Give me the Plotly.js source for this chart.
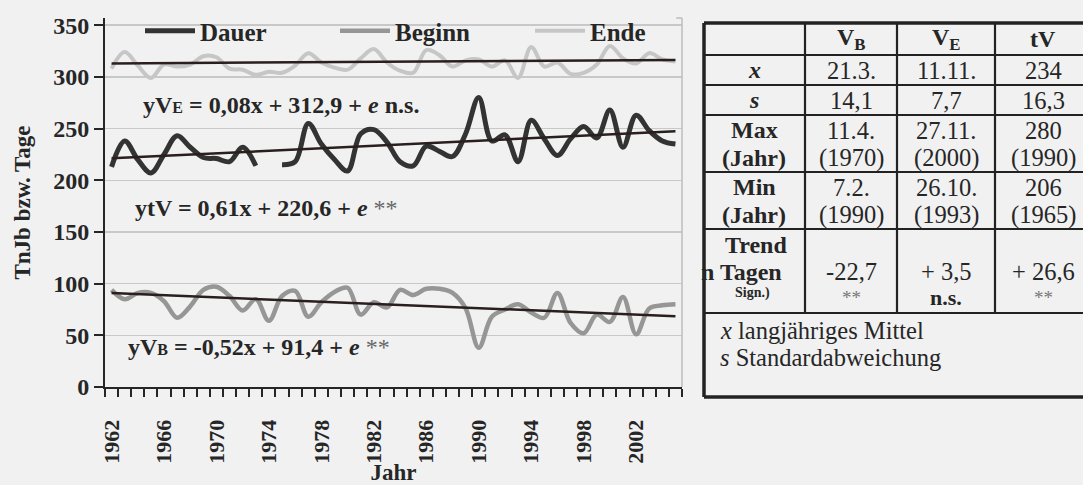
<!DOCTYPE html>
<html>
<head>
<meta charset="utf-8">
<script src="https://cdn.plot.ly/plotly-3.0.1.min.js"></script>
<style>html,body{margin:0;padding:0;background:#f1f1f1;}#chart{width:1083px;height:485px;}</style>
</head>
<body>
<div id="chart"></div>
<script>
// ---------- data ----------
const years = [1962,1963,1964,1965,1966,1967,1968,1969,1970,1971,1972,1973,1974,1975,1976,1977,1978,1979,1980,1981,1982,1983,1984,1985,1986,1987,1988,1989,1990,1991,1992,1993,1994,1995,1996,1997,1998,1999,2000,2001,2002,2003,2004,2005];
const dauer  = [213,238,220,207,225,243,232,222,221,218,232,214,null,215,218,255,235,220,209,245,249,237,218,214,233,228,223,245,280,238,244,218,258,240,224,240,252,241,268,232,263,248,238,235];
const beginn = [94,85,91,91,83,67,78,94,97,88,74,85,64,88,93,68,82,92,96,70,82,77,94,89,95,95,91,76,38,68,75,80,72,67,91,62,52,70,63,87,51,76,79,80];
const ende   = [308,324,311,299,312,310,312,320,319,308,307,302,305,304,311,323,314,309,307,318,327,314,306,304,326,321,310,316,317,310,316,299,329,310,314,303,304,312,330,318,313,323,317,315];
// trend lines: values at first and last year
const trendYears  = [1962, 2005];
const trendEnde   = [313.0, 316.4];
const trendDauer  = [221.2, 247.4];
const trendBeginn = [90.9, 68.5];
const seriesNames = ["Dauer","Beginn","Ende"];
const labelYears = [1962,1966,1970,1974,1978,1982,1986,1990,1994,1998,2002];
const yTicks = [0,50,100,150,200,250,300,350];
const equations = [
  "yV<span style='font-size:16px'>E</span> = 0,08x + 312,9 + <i>e</i> n.s.",
  "ytV = 0,61x + 220,6 + <i>e</i> <span style='font-weight:normal;color:#666'>**</span>",
  "yV<span style='font-size:16px'>B</span> = -0,52x + 91,4 + <i>e</i> <span style='font-weight:normal;color:#666'>**</span>"
];
// table content (one entry per text line)
const tableHeader = ["", "V<sub>B</sub>", "V<sub>E</sub>", "tV"];
const rowX    = ["<i>x</i>", "21.3.", "11.11.", "234"];
const rowS    = ["<i>s</i>", "14,1", "7,7", "16,3"];
const rowMax  = ["Max", "11.4.", "27.11.", "280"];
const rowMaxY = ["(Jahr)", "(1970)", "(2000)", "(1990)"];
const rowMin  = ["Min", "7.2.", "26.10.", "206"];
const rowMinY = ["(Jahr)", "(1990)", "(1993)", "(1965)"];
const trendVals = ["-22,7", "+ 3,5", "+ 26,6"];
const trendSig  = ["**", "n.s.", "**"];
const footer = ["<i>x</i> langjähriges Mittel", "<i>s</i> Standardabweichung"];

// ---------- layout helpers ----------
const W = 1083, H = 485;
const ML = 105, MR = 0, MT = 18, MB = 98;
const PW = W - ML - MR, PH = H - MT - MB;
const px = x => (x - ML) / PW;
const py = y => (H - MB - y) / PH;
const SERIF = "Liberation Serif, Times New Roman, serif";
const INK = "#262626";
const BG = "#f1f1f1";

const bounds = years.map(y => y - 0.5).concat([years[years.length - 1] + 0.5]);

const traces = [
  {x: years, y: dauer, name: seriesNames[0], mode: "lines", connectgaps: false,
   line: {color: "#333333", width: 5, shape: "spline", smoothing: 1}},
  {x: years, y: beginn, name: seriesNames[1], mode: "lines",
   line: {color: "#969696", width: 4.5, shape: "spline", smoothing: 1}},
  {x: years, y: ende, name: seriesNames[2], mode: "lines",
   line: {color: "#c6c6c6", width: 4, shape: "spline", smoothing: 1}},
  {x: trendYears, y: trendEnde, mode: "lines", showlegend: false, hoverinfo: "skip",
   line: {color: "#2a1e1e", width: 2.5}},
  {x: trendYears, y: trendDauer, mode: "lines", showlegend: false, hoverinfo: "skip",
   line: {color: "#2a1e1e", width: 2.5}},
  {x: trendYears, y: trendBeginn, mode: "lines", showlegend: false, hoverinfo: "skip",
   line: {color: "#2a1e1e", width: 2.5}}
];

const annotations = [];
function ann(text, x, y, opt) {
  opt = opt || {};
  annotations.push(Object.assign({
    xref: "paper", yref: "paper", x: px(x), y: py(y), text: text, showarrow: false,
    xanchor: "center", yanchor: "middle",
    font: {family: SERIF, size: 22, color: INK}
  }, opt));
}
// equations
const eqPos = [[141, 105], [133, 208], [126, 347]];
equations.forEach((t, i) => ann(t, eqPos[i][0], eqPos[i][1],
  {xanchor: "left", font: {family: SERIF, size: 24, color: INK, weight: "bold"}}));

// table
const colC = [754, 851, 946, 1043];
const bold = {family: SERIF, size: 24, color: INK, weight: "bold"};
const reg  = {family: SERIF, size: 24.5, color: INK};
tableHeader.forEach((t, i) => { if (t) ann(t, colC[i], 39, {font: bold}); });
[[rowX, 70], [rowS, 100], [rowMax, 130], [rowMaxY, 158], [rowMin, 187], [rowMinY, 215]].forEach(([row, yy]) => {
  row.forEach((t, i) => ann(t, colC[i], yy, {font: i === 0 ? bold : reg}));
});
ann("Trend", colC[0] + 2, 245, {font: bold});
ann("n Tagen", 784, 272, {xanchor: "right", font: bold});
ann("Sign.)", colC[0] - 2, 293, {font: {family: SERIF, size: 14, color: INK, weight: "bold"}});
trendVals.forEach((t, i) => ann(t, colC[i + 1], 271, {font: reg}));
trendSig.forEach((t, i) => ann(t, colC[i + 1], 297,
  {font: t === "n.s." ? {family: SERIF, size: 22, color: INK, weight: "bold"} : {family: SERIF, size: 19, color: "#777"}}));
footer.forEach((t, i) => ann(t, 718, 330 + i * 27, {xanchor: "left", font: reg}));

// shapes
const shapes = [];
// mask the top gridline strip (behind the legend area), drawn under the traces
shapes.push({type: "rect", xref: "x domain", yref: "y", x0: 0.003, x1: 0.997, y0: 343, y1: 357,
  layer: "below", line: {width: 0}, fillcolor: BG});
function line(x0, y0, x1, y1, w) {
  shapes.push({type: "line", xref: "paper", yref: "paper",
    x0: px(x0), y0: py(y0), x1: px(x1), y1: py(y1),
    line: {color: "#222", width: w}});
}
const TL = 704, TR = 1090, TT = 23, TB = 397;
line(TL, TT, TR, TT, 3.5);
line(TL, TB, TR, TB, 3.5);
line(TL, TT, TL, TB, 3.5);
[805, 897, 995].forEach(x => line(x, TT, x, 313, 2.2));
[55, 85, 115, 172, 229, 313].forEach(y => line(TL, y, TR, y, 2.2));
// plot area right border
shapes.push({type: "line", xref: "x domain", yref: "y domain", x0: 1, x1: 1, y0: 0, y1: 1,
  line: {color: "#bcbcbc", width: 1.5}});
shapes.push({type: "line", xref: "x domain", yref: "y domain", x0: 0.99, x1: 1, y0: 1, y1: 1,
  line: {color: "#bcbcbc", width: 1.5}});

const layout = {
  width: W, height: H,
  paper_bgcolor: BG, plot_bgcolor: BG,
  margin: {l: ML, r: MR, t: MT, b: MB, pad: 0},
  showlegend: true,
  legend: {orientation: "h", x: px(140), y: py(8), xanchor: "left", yanchor: "top",
    bgcolor: "rgba(0,0,0,0)", itemwidth: 50, entrywidth: 130, entrywidthmode: "pixels",
    font: {family: SERIF, size: 25, color: INK, weight: "bold"}},
  xaxis: {domain: [0, (682 - ML) / PW], range: [bounds[0], bounds[bounds.length - 1]],
    tickmode: "array", tickvals: labelYears, ticktext: labelYears.map(String),
    tickangle: -90, ticks: "", ticklabelstandoff: 22,
    showline: true, linecolor: INK, linewidth: 2, showgrid: false, zeroline: false,
    tickfont: {family: SERIF, size: 22, color: INK, weight: "bold"},
    minor: {ticks: "outside", tickmode: "array", tickvals: bounds, ticklen: 8,
      tickwidth: 2, tickcolor: INK, showgrid: false},
    title: {text: "Jahr", font: {family: SERIF, size: 23, color: INK, weight: "bold"}, standoff: 11}},
  yaxis: {range: [0, 357], tickmode: "array", tickvals: yTicks,
    ticks: "outside", ticklen: 9, tickwidth: 2, tickcolor: INK,
    showline: true, linecolor: INK, linewidth: 2,
    showgrid: true, gridcolor: "#c8c8c8", gridwidth: 1.5, zeroline: false,
    tickfont: {family: SERIF, size: 24, color: INK, weight: "bold"},
    title: {text: "TnJb bzw. Tage", font: {family: SERIF, size: 23, color: INK, weight: "bold"}, standoff: 16}},
  annotations: annotations,
  shapes: shapes
};

Plotly.newPlot("chart", traces, layout, {staticPlot: true, displayModeBar: false});
</script>
</body>
</html>
